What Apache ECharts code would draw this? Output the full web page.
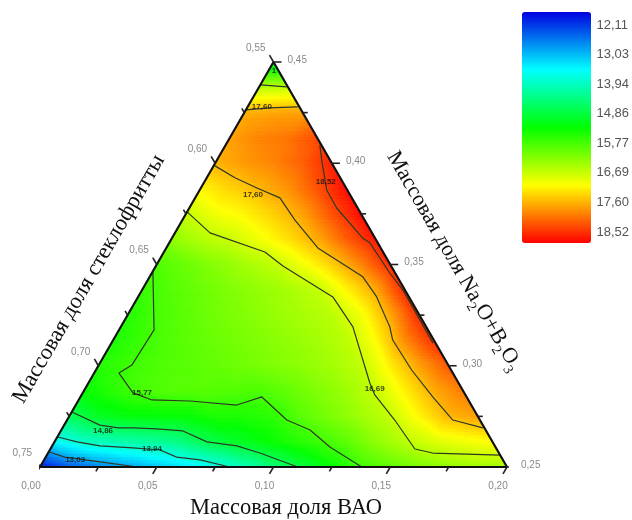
<!DOCTYPE html>
<html><head><meta charset="utf-8">
<style>html,body{margin:0;padding:0;background:#fff}#main{width:632px;height:520px;filter:blur(0.6px)}</style>
<script src="https://cdn.jsdelivr.net/npm/echarts@6/dist/echarts.min.js"></script>
</head><body><div id="main"></div>
<script>
// Value field: one list per Na2O+B2O3 level (0.25, 0.2625 ...), BAO rising in 0.0125 steps
const row00=[11.9,12.4,12.7,12.95,13.2,13.45,13.75,14.1,14.55,14.95,15.35,15.77,16.0,16.2,16.35,16.45,16.5];
const row01=[13.6,14.0,14.15,14.25,14.4,14.75,15.04,15.27,15.49,15.72,15.95,16.3,16.6,16.85,17.0,17.1];
const row02=[14.75,15.1,15.27,15.3,15.32,15.5,15.5,15.62,15.94,16.18,16.42,16.68,17.15,17.6,17.75];
const row03=[15.35,15.6,15.82,15.9,15.92,15.88,15.85,16.0,16.2,16.4,16.7,17.18,17.68,18.0];
const row04=[15.55,15.72,15.85,15.92,16.0,16.1,16.2,16.3,16.45,16.65,17.2,17.75,18.25];
const row05=[15.5,15.72,15.88,16.0,16.1,16.2,16.32,16.45,16.62,17.1,17.9,18.55];
const row06=[15.55,15.8,15.95,16.1,16.22,16.35,16.48,16.6,17.0,17.7,18.6];
const row07=[15.7,15.9,16.05,16.2,16.33,16.47,16.65,17.15,17.68,18.6];
const row08=[15.85,16.05,16.25,16.45,16.65,17.0,17.42,17.95,18.6];
const row09=[16.3,16.55,16.72,17.0,17.3,17.68,18.22,18.72];
const row10=[16.7,17.0,17.15,17.42,17.75,18.3,18.8];
const row11=[17.15,17.38,17.6,17.85,18.3,18.8];
const row12=[17.62,17.8,17.95,18.2,18.65];
const row13=[17.75,17.95,18.05,18.35];
const row14=[17.65,17.72,17.75];
const row15=[16.6,16.65];
const row16=[14.9];
const fieldRows=[row00,row01,row02,row03,row04,row05,row06,row07,row08,row09,row10,row11,row12,row13,row14,row15,row16];

// Contours as [BAO, Na2O+B2O3]
const c1303=[[0.0003,0.2574],[0.0082,0.2549],[0.0245,0.2525],[0.0419,0.25]];
const c1394=[[0.0003,0.2648],[0.0096,0.2624],[0.0205,0.2604],[0.0351,0.2594],[0.0472,0.2584],[0.0561,0.2549],[0.0668,0.2535],[0.0813,0.25]];
const c1486=[[0.0001,0.2772],[0.0153,0.2707],[0.0238,0.2693],[0.0302,0.2693],[0.0407,0.2688],[0.0523,0.2678],[0.0653,0.2624],[0.0791,0.2604],[0.0907,0.2569],[0.1104,0.25]];
const c1577=[[0.0002,0.3463],[0.015,0.3177],[0.0142,0.3004],[0.0106,0.2964],[0.0215,0.2866],[0.0314,0.2831],[0.0479,0.2826],[0.069,0.2806],[0.0777,0.2846],[0.0941,0.2732],[0.1065,0.2683],[0.1192,0.2599],[0.1378,0.25]];
const c1669=[[0,0.376],[0.015,0.3656],[0.0432,0.3562],[0.0544,0.3493],[0.0834,0.334],[0.0994,0.3192],[0.1205,0.2915],[0.1256,0.2856],[0.1403,0.2732],[0.1561,0.2589],[0.1647,0.2569],[0.1939,0.2559]];
const c1669top=[[0.0002,0.4387],[0.0118,0.4377]];
const c1760top=[[0,0.4264],[0.0097,0.4273],[0.0215,0.4278]];
const c1760=[[0.0006,0.3987],[0.0121,0.3928],[0.024,0.3878],[0.0363,0.3829],[0.0481,0.372],[0.0649,0.3582],[0.0913,0.3439],[0.1022,0.334],[0.1152,0.3192],[0.1197,0.3127],[0.1352,0.2979],[0.1509,0.2846],[0.1652,0.2732],[0.18,0.2693]];
const c1852=[[0.0403,0.4091],[0.0454,0.4007],[0.0544,0.3868],[0.0631,0.3779],[0.0816,0.3631],[0.0859,0.3607],[0.1019,0.3458],[0.1117,0.3374],[0.1376,0.3113]];
const contours=[c1303,c1394,c1486,c1577,c1669,c1669top,c1760top,c1760,c1852];

const contourLabels=[[0.0133,0.2535,'13,03'],[0.0435,0.2589,'13,94'],[0.0181,0.2678,'14,86'],[0.0254,0.2866,'15,77'],[0.1241,0.2885,'16,69'],[0.052,0.3908,'18,52'],[0.0061,0.4278,'17,60'],[0.024,0.3844,'17,60']];
const apexLabel=[[0.0024,0.4456,'15,77']];

const baoTicks=[0,0.05,0.10,0.15,0.20];
const naTicks=[0.25,0.30,0.35,0.40,0.45];
const fritTicks=[0.75,0.70,0.65,0.60,0.55];
const baoMinor=[0.025,0.075,0.125,0.175];
const naMinor=[0.275,0.325,0.375,0.425];
const fritMinor=[0.725,0.675,0.625,0.575];
const legendTicks=[12.11,13.03,13.94,14.86,15.77,16.69,17.60,18.52];
const colorValues=[11.71,13.6,15.33,17.09,18.86];
const colorStops=[[0,0,225],[0,255,255],[0,255,0],[255,255,0],[255,0,0]];
const titleBottom='Массовая доля ВАО', titleLeft='Массовая доля стеклофритты';

const comma=v=>v.toFixed(2).replace('.',',');
const proj=(b,n)=>[b+(n-0.25)/2,n];
function colorOf(v){
  if(v<=colorValues[0])return colorStops[0];
  for(let i=1;i<colorValues.length;i++){
    if(v<=colorValues[i]){
      const t=(v-colorValues[i-1])/(colorValues[i]-colorValues[i-1]),a=colorStops[i-1],b=colorStops[i];
      return [0,1,2].map(k=>a[k]+(b[k]-a[k])*t);
    }
  }
  return colorStops[colorStops.length-1];
}
const rgb=c=>`rgb(${c.map(Math.round).join(',')})`;
const step=0.0125;
const node=(i,j)=>[j*step,0.25+i*step,fieldRows[i][j]];
const cells=[];
for(let i=0;i<fieldRows.length-1;i++){
  for(let j=0;j<fieldRows[i].length-1;j++){
    cells.push([...node(i,j),...node(i,j+1),...node(i+1,j)]);
    if(j<fieldRows[i].length-2) cells.push([...node(i,j+1),...node(i+1,j+1),...node(i+1,j)]);
  }
}
const SUB=8;
function renderCell(params,api){
  const d=cells[params.dataIndex];
  const P=(x,y,z)=>{ // barycentric steps
    const a=x/SUB,b=y/SUB,c=z/SUB;
    const B=a*d[0]+b*d[3]+c*d[6],N=a*d[1]+b*d[4]+c*d[7],V=a*d[2]+b*d[5]+c*d[8];
    return {p:api.coord(proj(B,N)),v:V};
  };
  const children=[];
  const add=(A,B,C)=>{
    const col=rgb(colorOf((A.v+B.v+C.v)/3));
    children.push({type:'polygon',shape:{points:[A.p,B.p,C.p]},style:{fill:col,stroke:col,lineWidth:0.7},silent:true});
  };
  for(let x=0;x<SUB;x++){
    for(let y=0;y<SUB-x;y++){
      const z=SUB-x-y;
      add(P(x+1,y,z-1),P(x,y+1,z-1),P(x,y,z));
      if(z>=2) add(P(x+1,y,z-1),P(x+1,y+1,z-2),P(x,y+1,z-1));
    }
  }
  return {type:'group',children};
}

const base={xAxisIndex:0,yAxisIndex:0,silent:true,animation:false};
const line=(pts,color,width)=>({...base,type:'line',clip:false,symbol:'none',data:pts.map(p=>proj(p[0],p[1])),lineStyle:{color,width},z:5});
const series=[{...base,type:'custom',renderItem:renderCell,data:cells,clip:false,progressive:0,z:1,encode:{x:0,y:1}}];
contours.forEach(c=>series.push(line(c,'#2c3a24',1.2)));
series.push(line([[0,0.25],[0.2,0.25],[0,0.45],[0,0.25]],'#111',2.2));
const tickD=0.2*8/467, minorD=0.2*5/467, axisColor='#222';
const tickSeries=(ticks,len,f)=>ticks.forEach(t=>series.push(line(f(t,len),axisColor,1.6)));
const fB=(t,l)=>[[t,0.25],[t,0.25-l]];
const fN=(t,l)=>[[0.45-t,t],[0.45-t+l,t]];
const fF=(t,l)=>[[0,1-t],[-l,1-t+l]];
tickSeries(baoTicks,tickD,fB);tickSeries(naTicks,tickD,fN);tickSeries(fritTicks,tickD,fF);
tickSeries(baoMinor,minorD,fB);tickSeries(naMinor,minorD,fN);tickSeries(fritMinor,minorD,fF);

const labelSeries=(pts,offset,align,font)=>({...base,type:'scatter',symbolSize:0,z:8,clip:false,
  data:pts.map(p=>({value:proj(p[0],p[1]),name:p[2]})),
  label:{show:true,position:'inside',offset,align,verticalAlign:'middle',formatter:q=>q.name,...font}});
const tickFont={fontFamily:'Liberation Sans',fontSize:10,color:'#6a6a6a'};
const contourFont={fontFamily:'Liberation Sans',fontSize:8,fontWeight:'bold',color:'#111'};
series.push(labelSeries(baoTicks.map(t=>[t,0.25,comma(t)]),[-9,19],'center',tickFont));
series.push(labelSeries(naTicks.map(t=>[0.45-t,t,comma(t)]),[14,-2],'left',tickFont));
series.push(labelSeries(fritTicks.map(t=>[0,1-t,comma(t)]),[-8,-14],'right',tickFont));
series.push(labelSeries(contourLabels,[0,0],'center',contourFont));
series.push(labelSeries(apexLabel,[0,0],'center',{...contourFont,width:9,overflow:'truncate',ellipsis:''}));

const chart=echarts.init(document.getElementById('main'),null,{renderer:'canvas'});
chart.setOption({
  animation:false,backgroundColor:'#fff',
  grid:[{left:40,top:62,width:467,height:405},{left:522,top:12,width:69,height:231}],
  xAxis:[{type:'value',min:0,max:0.2,show:false,gridIndex:0},{type:'value',min:0,max:1,show:false,gridIndex:1}],
  yAxis:[{type:'value',min:0.25,max:0.45,show:false,gridIndex:0},
    {type:'value',gridIndex:1,min:colorValues[0],max:colorValues[4],inverse:true,position:'right',
     axisLine:{show:false},axisTick:{show:false},splitLine:{show:false},
     axisLabel:{customValues:legendTicks,formatter:v=>comma(v),fontFamily:'Liberation Sans',fontSize:13,color:'#555',margin:7}}],
  visualMap:{type:'continuous',seriesIndex:0,dimension:2,min:colorValues[0],max:colorValues[4],inverse:true,
    left:522,top:12,itemWidth:69,itemHeight:231,padding:0,calculable:false,realtime:false,text:null,showLabel:false,
    inRange:{color:colorStops.map(rgb)},hoverLink:false,borderWidth:0},
  graphic:[
    {type:'text',x:286,y:508,silent:true,style:{text:titleBottom,font:'22.5px "Liberation Serif"',fill:'#111',align:'center',verticalAlign:'middle'}},
    {type:'text',x:89,y:279,rotation:Math.PI/3,silent:true,style:{text:titleLeft,font:'22.5px "Liberation Serif"',fill:'#111',align:'center',verticalAlign:'middle'}},
    {type:'text',x:454,y:261,rotation:-Math.PI/3,silent:true,style:{
      text:'Массовая доля Na{s|2}O+B{s|2}O{s|3}',font:'22px "Liberation Serif"',fill:'#111',align:'center',verticalAlign:'middle',lineHeight:30,
      rich:{s:{font:'14px "Liberation Serif"',fill:'#111',verticalAlign:'bottom',lineHeight:24}}}}
  ],
  series
});
</script></body></html>
